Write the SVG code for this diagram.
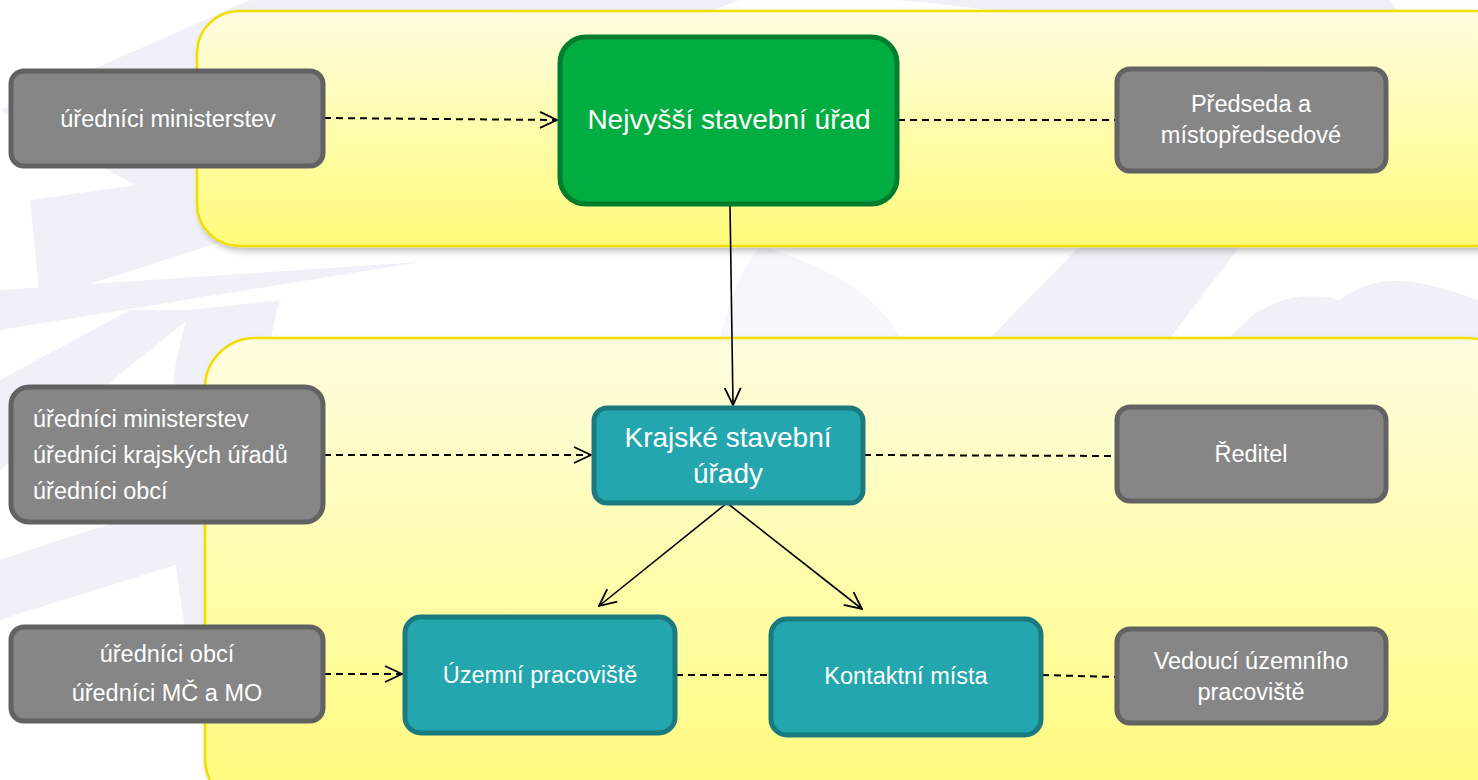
<svg xmlns="http://www.w3.org/2000/svg" width="1478" height="780" viewBox="0 0 1478 780">
<defs>
<linearGradient id="yel" x1="0" y1="0" x2="0" y2="1">
<stop offset="0" stop-color="#fffde0"/>
<stop offset="1" stop-color="#fffb7a"/>
</linearGradient>
<filter id="sh" x="-5%" y="-5%" width="110%" height="115%">
<feDropShadow dx="3" dy="4" stdDeviation="3" flood-color="#000" flood-opacity="0.25"/>
</filter>
<marker id="arr" viewBox="0 0 20 20" refX="19" refY="10" markerWidth="20" markerHeight="20" markerUnits="userSpaceOnUse" orient="auto">
<path d="M2,2 L19,10 L2,18" fill="none" stroke="#000" stroke-width="1.8"/>
</marker>
<style>
.panel{fill:url(#yel);stroke:#f2dd00;stroke-width:2.5}
.gray{fill:#868686;stroke:#626262;stroke-width:5}
.green{fill:#00ad40;stroke:#007d2e;stroke-width:5}
.teal{fill:#24a6ae;stroke:#1a7a80;stroke-width:5}
.t{font-family:"Liberation Sans",Arial,sans-serif;fill:#fff;text-anchor:middle}
.l{text-anchor:start}
.s{font-size:23.5px}
.b{font-size:28px}
.dash{fill:none;stroke:#000;stroke-width:2;stroke-dasharray:7,5}
.solid{fill:none;stroke:#000;stroke-width:1.6}
</style>
</defs>
<rect width="1478" height="780" fill="#ffffff"/>
<g id="background" fill="#f0f0f8">
<path d="M0,110 L250,0 L740,0 L180,210 Z"/>
<path d="M30,200 L600,120 L40,300 Z"/>
<path d="M0,290 L420,262 L0,330 Z"/>
<path d="M0,380 L130,310 L200,310 L0,470 Z"/>
<path d="M190,310 C150,420 170,600 220,780 L330,780 C260,620 240,440 280,300 Z"/>
<path d="M0,560 C60,540 120,520 190,500 L190,560 C130,580 60,600 0,620 Z"/>
<path d="M900,0 L1330,0 L1190,60 C1100,20 1000,10 900,0 Z"/>
<path d="M1260,0 L1390,0 L1440,70 L1478,40 L1478,130 L1380,130 Z"/>
<path d="M1080,246 L1240,246 L1170,338 L990,338 Z"/>
<path d="M1230,338 C1260,300 1300,290 1340,300 C1380,270 1420,280 1478,300 L1478,338 Z"/>
<path d="M760,246 C840,270 880,300 900,338 L720,338 C730,300 740,270 760,246 Z" opacity="0.6"/>
</g>
<g id="panels">
<rect id="panel-top" class="panel" x="197" y="11" width="1320" height="235" rx="42" filter="url(#sh)"/>
<rect id="panel-bottom" class="panel" x="205" y="338" width="1312" height="470" rx="50" filter="url(#sh)"/>
</g>
<g id="connectors">
<line class="dash" x1="324" y1="118" x2="557" y2="120" marker-end="url(#arr)"/>
<line class="dash" x1="898" y1="120" x2="1115" y2="120"/>
<line class="solid" x1="730" y1="205" x2="733" y2="405" marker-end="url(#arr)"/>
<line class="dash" x1="324" y1="455" x2="591" y2="455" marker-end="url(#arr)"/>
<line class="dash" x1="864" y1="455" x2="1115" y2="456"/>
<line class="solid" x1="727" y1="503" x2="599" y2="606" marker-end="url(#arr)"/>
<line class="solid" x1="727" y1="503" x2="862" y2="609" marker-end="url(#arr)"/>
<line class="dash" x1="324" y1="674" x2="402" y2="674" marker-end="url(#arr)"/>
<line class="dash" x1="676" y1="675" x2="769" y2="675"/>
<line class="dash" x1="1042" y1="675" x2="1115" y2="677"/>
</g>
<g id="n-uredniciMin">
<rect class="gray" x="11" y="71" width="312" height="95" rx="13"/>
<text class="t s" x="168" y="127">úředníci ministerstev</text>
</g>
<g id="n-nsu">
<rect class="green" x="560" y="37" width="337" height="167" rx="26"/>
<text class="t b" x="729" y="129">Nejvyšší stavební úřad</text>
</g>
<g id="n-predseda">
<rect class="gray" x="1117" y="69" width="269" height="102" rx="13"/>
<text class="t s" x="1251" y="112">Předseda a</text>
<text class="t s" x="1251" y="143">místopředsedové</text>
</g>
<g id="n-krajske">
<rect class="teal" x="594" y="408" width="269" height="95" rx="13"/>
<text class="t b" x="728" y="447">Krajské stavební</text>
<text class="t b" x="728" y="483">úřady</text>
</g>
<g id="n-reditel">
<rect class="gray" x="1117" y="407" width="269" height="94" rx="13"/>
<text class="t s" x="1251" y="462">Ředitel</text>
</g>
<g id="n-urednici3">
<rect class="gray" x="11" y="387" width="312" height="135" rx="18"/>
<text class="t s l" x="33" y="427">úředníci ministerstev</text>
<text class="t s l" x="33" y="463">úředníci krajských úřadů</text>
<text class="t s l" x="33" y="499">úředníci obcí</text>
</g>
<g id="n-urednici2">
<rect class="gray" x="11" y="627" width="312" height="94" rx="13"/>
<text class="t s" x="167" y="662">úředníci obcí</text>
<text class="t s" x="167" y="701">úředníci MČ a MO</text>
</g>
<g id="n-uzemni">
<rect class="teal" x="405" y="617" width="270" height="116" rx="16"/>
<text class="t s" x="540" y="683">Územní pracoviště</text>
</g>
<g id="n-kontaktni">
<rect class="teal" x="771" y="619" width="270" height="116" rx="16"/>
<text class="t s" x="906" y="684">Kontaktní místa</text>
</g>
<g id="n-vedouci">
<rect class="gray" x="1117" y="629" width="269" height="94" rx="13"/>
<text class="t s" x="1251" y="669">Vedoucí územního</text>
<text class="t s" x="1251" y="700">pracoviště</text>
</g>
</svg>
